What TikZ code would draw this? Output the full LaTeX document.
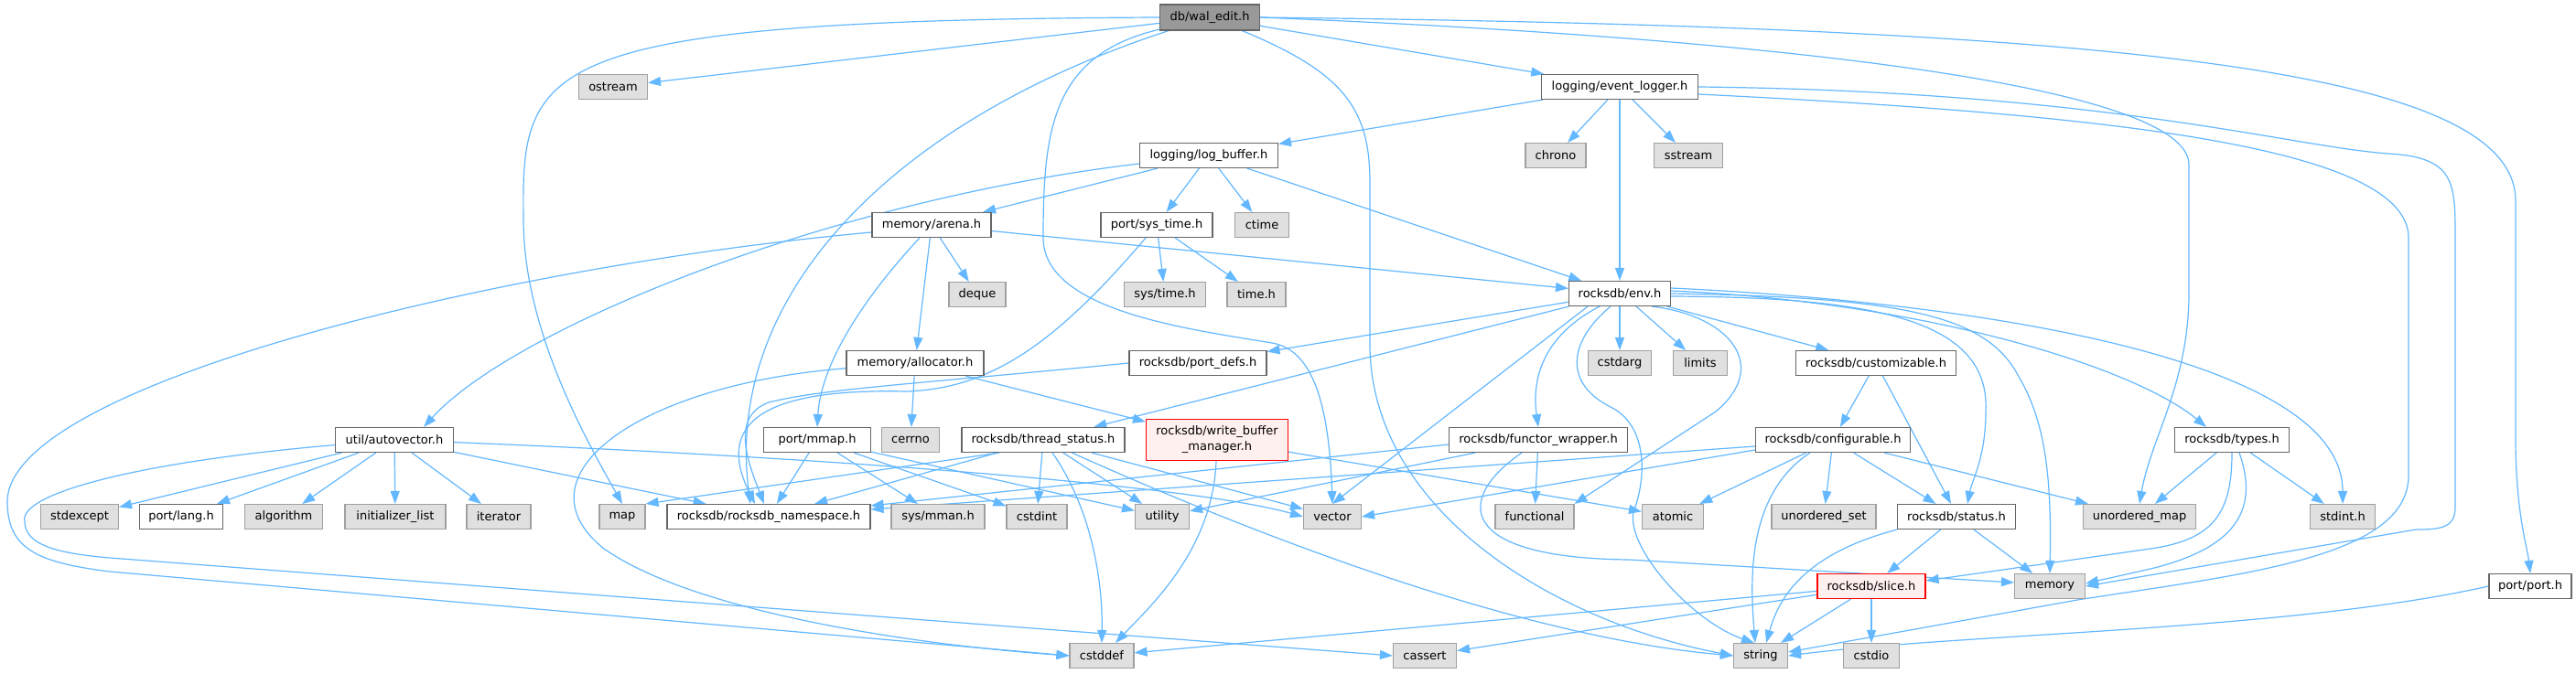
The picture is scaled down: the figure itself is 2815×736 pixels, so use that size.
\documentclass[tikz,border=0pt]{standalone}
\usepackage{fontspec}
\setmainfont{DejaVu Sans}
\usepackage{tikz}
\usetikzlibrary{arrows.meta, calc, backgrounds}
\definecolor{edgeColor}{RGB}{99, 184, 255}
\definecolor{rootFill}{RGB}{153, 153, 153}
\definecolor{docBorder}{RGB}{102, 102, 102}
\definecolor{sysBorder}{RGB}{160, 160, 160}
\definecolor{sysFill}{RGB}{224, 224, 224}
\definecolor{truncBorder}{RGB}{255, 0, 0}
\definecolor{truncFill}{RGB}{255, 240, 240}

\begin{document}
\begin{tikzpicture}[
        x=1pt, y=-1pt,
        base/.style={rectangle, inner sep=0pt, minimum height=27pt, line width=1.1pt, align=center, font=\fontsize{13}{17}\selectfont},
        root/.style={base, draw=docBorder, fill=rootFill},
        doc/.style={base, draw=docBorder, fill=white},
        sys/.style={base, draw=sysBorder, fill=sysFill},
        trunc/.style={base, draw=truncBorder, fill=truncFill},
        dep/.style={draw=edgeColor, line width=1.2pt, -{Triangle[length=14pt, width=10pt]}}
    ]
    % Nodes
    \node (walEdit) [root, minimum width=109pt, minimum height=28pt] at (1322,19) {db/wal\_edit.h};
    \node (ostream) [sys, minimum width=75pt] at (670,95) {ostream};
    \node (eventLogger) [doc, minimum width=171pt] at (1770,95) {logging/event\_logger.h};
    \node (logBuffer) [doc, minimum width=151pt] at (1321,170) {logging/log\_buffer.h};
    \node (chrono) [sys, minimum width=66pt] at (1700,170) {chrono};
    \node (sstream) [sys, minimum width=75pt] at (1845,170) {sstream};
    \node (arena) [doc, minimum width=130pt] at (1018,246) {memory/arena.h};
    \node (sysTime) [doc, minimum width=122pt] at (1264,246) {port/sys\_time.h};
    \node (ctime) [sys, minimum width=59pt] at (1379,246) {ctime};
    \node (deque) [sys, minimum width=62pt] at (1068,322) {deque};
    \node (sysTimeH) [sys, minimum width=89pt] at (1273,322) {sys/time.h};
    \node (timeH) [sys, minimum width=64pt] at (1373,322) {time.h};
    \node (env) [doc, minimum width=111pt] at (1770,321) {rocksdb/env.h};
    \node (allocator) [doc, minimum width=150pt] at (1000,397) {memory/allocator.h};
    \node (portDefs) [doc, minimum width=150pt] at (1309,397) {rocksdb/port\_defs.h};
    \node (cstdarg) [sys, minimum width=69pt] at (1770,397) {cstdarg};
    \node (limits) [sys, minimum width=59pt] at (1858,397) {limits};
    \node (customizable) [doc, minimum width=175pt] at (2050,397) {rocksdb/customizable.h};
    \node (autovector) [doc, minimum width=129pt] at (431,481) {util/autovector.h};
    \node (mmap) [doc, minimum width=117pt] at (893,481) {port/mmap.h};
    \node (cerrno) [sys, minimum width=63pt] at (995,481) {cerrno};
    \node (threadStatus) [doc, minimum width=178pt] at (1140,481) {rocksdb/thread\_status.h};
    \node (writeBuffer) [trunc, minimum width=155pt, minimum height=45pt] at (1330,481) {rocksdb/write\_buffer\\\_manager.h};
    \node (functorWrapper) [doc, minimum width=195pt] at (1681,481) {rocksdb/functor\_wrapper.h};
    \node (configurable) [doc, minimum width=169pt] at (2003,481) {rocksdb/configurable.h};
    \node (types) [doc, minimum width=125pt] at (2439,481) {rocksdb/types.h};
    \node (stdexcept) [sys, minimum width=85pt] at (87,565) {stdexcept};
    \node (portLang) [doc, minimum width=91pt] at (198,565) {port/lang.h};
    \node (algorithm) [sys, minimum width=85pt] at (310,565) {algorithm};
    \node (initList) [sys, minimum width=110pt] at (432,565) {initializer\_list};
    \node (iterator) [sys, minimum width=70pt] at (545,565) {iterator};
    \node (map) [sys, minimum width=50pt] at (680,565) {map};
    \node (nsp) [doc, minimum width=222pt] at (840,565) {rocksdb/rocksdb\_namespace.h};
    \node (sysMman) [sys, minimum width=102pt] at (1025,565) {sys/mman.h};
    \node (cstdint) [sys, minimum width=66pt] at (1133,565) {cstdint};
    \node (utility) [sys, minimum width=59pt] at (1270,565) {utility};
    \node (vector) [sys, minimum width=63pt] at (1456,565) {vector};
    \node (functional) [sys, minimum width=86pt] at (1677,565) {functional};
    \node (atomic) [sys, minimum width=67pt] at (1828,565) {atomic};
    \node (unorderedSet) [sys, minimum width=114pt] at (1993,565) {unordered\_set};
    \node (status) [doc, minimum width=129pt] at (2138,565) {rocksdb/status.h};
    \node (unorderedMap) [sys, minimum width=123pt] at (2338,565) {unordered\_map};
    \node (stdint) [sys, minimum width=71pt] at (2560,565) {stdint.h};
    \node (slice) [trunc, minimum width=118pt] at (2045,641) {rocksdb/slice.h};
    \node (memory) [sys, minimum width=77pt] at (2240,641) {memory};
    \node (portPort) [doc, minimum width=90pt] at (2765,641) {port/port.h};
    \node (cstddef) [sys, minimum width=70pt] at (1204,717) {cstddef};
    \node (cassert) [sys, minimum width=69pt] at (1557,717) {cassert};
    \node (string) [sys, minimum width=59pt] at (1924,717) {string};
    \node (cstdio) [sys, minimum width=61pt] at (2045,717) {cstdio};

    \begin{scope}[on background layer]
    \fill [white] (0,0) rectangle (2815,736);
    \path [use as bounding box] (0,0) rectangle (2815,736);

    % db/wal_edit.h
    \draw [dep] (walEdit) -- (ostream);
    \draw [dep] (walEdit.west) .. controls (580,22) and (570,70) .. (572,240) .. controls (572,360) and (640,480) .. (map.north);
    \draw [dep] (walEdit) .. controls (980,130) and (790,320) .. ($(nsp.north)+(-20,0)$);
    \draw [dep] (walEdit) .. controls (1150,60) and (1140,140) .. (1140,260) .. controls (1140,340) and (1300,360) .. (1390,375) .. controls (1430,382) and (1452,430) .. (vector.north);
    \draw [dep] (walEdit) .. controls (1470,80) and (1497,120) .. (1497,200) -- (1497,380) .. controls (1500,560) and (1700,680) .. (string.west);
    \draw [dep] (walEdit) -- (eventLogger);
    \draw [dep] (walEdit.east) .. controls (1900,40) and (2392,90) .. (2392,180) -- (2392,320) .. controls (2392,420) and (2350,480) .. (unorderedMap.north);
    \draw [dep] (walEdit.east) .. controls (2350,30) and (2749,80) .. (2749,220) -- (2749,480) .. controls (2749,560) and (2762,600) .. (portPort.north);

    % logging/event_logger.h
    \draw [dep] (eventLogger) -- (logBuffer);
    \draw [dep] (eventLogger) -- (chrono);
    \draw [dep] (eventLogger) -- (sstream);
    \draw [dep] (eventLogger) -- (env);
    \draw [dep] (eventLogger.east) .. controls (2300,100) and (2500,160) .. (2610,168) .. controls (2683,172) and (2683,200) .. (2683,260) -- (2683,555) .. controls (2683,578) and (2665,579) .. (2640,579) -- (memory.east);
    \draw [dep] ($(eventLogger.east)+(0,8)$) .. controls (2300,125) and (2632,160) .. (2632,260) -- (2632,520) .. controls (2632,610) and (2450,628) .. (2270,656) -- ($(string.east)+(0,-4)$);

    % logging/log_buffer.h
    \draw [dep] (logBuffer) .. controls (900,220) and (560,360) .. ($(autovector.north)+(32,0)$);
    \draw [dep] (logBuffer) -- (arena);
    \draw [dep] (logBuffer) -- (sysTime);
    \draw [dep] (logBuffer) -- (ctime);
    \draw [dep] (logBuffer) -- (env);

    % memory/arena.h
    \draw [dep] ($(arena.west)+(0,8)$) .. controls (550,290) and (10,420) .. (8,548) .. controls (8,600) and (40,615) .. (120,625) -- (cstddef.west);
    \draw [dep] (arena) .. controls (940,330) and (897,400) .. (mmap.north);
    \draw [dep] (arena) -- (allocator);
    \draw [dep] (arena) -- (deque);
    \draw [dep] (arena) -- (env);

    % port/sys_time.h
    \draw [dep] (sysTime) .. controls (1150,380) and (1080,425) .. (990,428) .. controls (860,425) and (775,450) .. ($(nsp.north)+(-15,0)$);
    \draw [dep] (sysTime) -- (sysTimeH);
    \draw [dep] (sysTime) -- (timeH);

    % memory/allocator.h
    \draw [dep] (allocator) -- (cerrno);
    \draw [dep] (allocator) -- (writeBuffer);
    \draw [dep] (allocator) .. controls (700,420) and (560,520) .. (660,600) .. controls (760,670) and (1000,705) .. (cstddef.west);

    % rocksdb/port_defs.h
    \draw [dep] (portDefs.west) .. controls (1000,420) and (900,425) .. (840,440) .. controls (800,455) and (815,500) .. ($(nsp.north)+(-5,0)$);

    % util/autovector.h
    \draw [dep] (autovector) -- (stdexcept);
    \draw [dep] (autovector) -- (portLang);
    \draw [dep] (autovector) -- (algorithm);
    \draw [dep] (autovector) -- (initList);
    \draw [dep] (autovector) -- (iterator);
    \draw [dep] (autovector) -- (nsp);
    \draw [dep] (autovector) .. controls (900,500) and (1300,530) .. (vector.west);
    \draw [dep] (autovector) .. controls (150,505) and (20,540) .. (27,570) .. controls (27,595) and (60,605) .. (120,610) -- (cassert.west);

    % port/mmap.h
    \draw [dep] (mmap) -- (nsp);
    \draw [dep] (mmap) -- (sysMman);
    \draw [dep] (mmap) -- (cstdint);
    \draw [dep] (mmap) -- (utility);

    % rocksdb/thread_status.h
    \draw [dep] ($(threadStatus.south)+(-48,0)$) -- (map.north east);
    \draw [dep] (threadStatus) -- (nsp);
    \draw [dep] (threadStatus) -- (cstdint);
    \draw [dep] ($(threadStatus.south)+(10,0)$) .. controls (1195,560) and (1205,640) .. (cstddef.north);
    \draw [dep] (threadStatus) -- (utility);
    \draw [dep] (threadStatus) -- (vector);
    \draw [dep] (threadStatus) .. controls (1450,620) and (1700,700) .. (string.west);

    % rocksdb/write_buffer_manager.h
    \draw [dep] (writeBuffer) .. controls (1325,600) and (1260,660) .. ($(cstddef.north)+(15,0)$);
    \draw [dep] (writeBuffer) -- (atomic);

    % rocksdb/env.h
    \draw [dep] (env) -- (portDefs);
    \draw [dep] (env) -- (threadStatus);
    \draw [dep] ($(env.south)+(-35,0)$) -- (vector.north);
    \draw [dep] ($(env.south)+(-22,0)$) .. controls (1690,365) and (1673,410) .. (functorWrapper.north);
    \draw [dep] ($(env.south)+(-10,0)$) .. controls (1712,375) and (1710,420) .. (1760,445) .. controls (1800,465) and (1800,520) .. (1785,560) .. controls (1777,600) and (1850,680) .. ($(string.north)+(-7,0)$);
    \draw [dep] (env) -- (cstdarg);
    \draw [dep] ($(env.south)+(18,0)$) -- (limits);
    \draw [dep] ($(env.south)+(35,0)$) .. controls (1890,345) and (1935,400) .. (1875,450) -- (functional.north east);
    \draw [dep] (env) -- (customizable);
    \draw [dep] ($(env.east)+(0,3)$) .. controls (2050,325) and (2175,350) .. (2170,450) .. controls (2170,500) and (2155,525) .. ($(status.north)+(12,0)$);
    \draw [dep] (env.east) .. controls (2080,325) and (2170,345) .. (2205,410) .. controls (2235,460) and (2242,520) .. (memory.north);
    \draw [dep] ($(env.east)+(0,-3)$) .. controls (2100,330) and (2330,400) .. ($(types.north)+(-28,0)$);
    \draw [dep] ($(env.east)+(0,-6)$) .. controls (2150,330) and (2560,390) .. (stdint.north);

    % rocksdb/functor_wrapper.h
    \draw [dep] ($(functorWrapper.west)+(0,5)$) -- ($(nsp.east)+(0,-12)$);
    \draw [dep] (functorWrapper) -- (utility);
    \draw [dep] (functorWrapper) -- (functional);
    \draw [dep] ($(functorWrapper.south)+(-18,0)$) .. controls (1590,545) and (1590,610) .. (1780,612) -- ($(memory.west)+(0,-4)$);

    % rocksdb/customizable.h
    \draw [dep] (customizable) -- (configurable);
    \draw [dep] (customizable) -- ($(status.north)+(-6,0)$);

    % rocksdb/configurable.h
    \draw [dep] ($(configurable.west)+(0,7)$) -- ($(nsp.east)+(0,-8)$);
    \draw [dep] ($(configurable.west)+(0,11)$) -- (vector.east);
    \draw [dep] (configurable) -- (atomic);
    \draw [dep] ($(configurable.south)+(-25,0)$) .. controls (1910,540) and (1912,630) .. ($(string.north)+(-6,0)$);
    \draw [dep] (configurable) -- (unorderedSet);
    \draw [dep] (configurable) -- (status);
    \draw [dep] (configurable) -- (unorderedMap);

    % rocksdb/types.h
    \draw [dep] (types) -- (unorderedMap);
    \draw [dep] (types) -- (stdint);
    \draw [dep] (types.south) .. controls (2439,560) and (2420,590) .. (2350,600) -- ($(slice.east)+(0,-6)$);
    \draw [dep] ($(types.south)+(8,0)$) .. controls (2470,560) and (2440,600) .. (2350,622) -- ($(memory.east)+(0,-3)$);

    % rocksdb/status.h
    \draw [dep] (status) -- (slice);
    \draw [dep] (status) -- (memory);
    \draw [dep] (status.south west) .. controls (1975,605) and (1945,650) .. ($(string.north)+(6,0)$);

    % rocksdb/slice.h
    \draw [dep] (slice) -- (cassert);
    \draw [dep] (slice) -- (cstddef);
    \draw [dep] (slice) -- (cstdio);
    \draw [dep] (slice) -- ($(string.north east)+(-8,0)$);

    % port/port.h
    \draw [dep] (portPort.west) .. controls (2500,690) and (2150,692) .. (string.east);
    \end{scope}
\end{tikzpicture}
\end{document}
